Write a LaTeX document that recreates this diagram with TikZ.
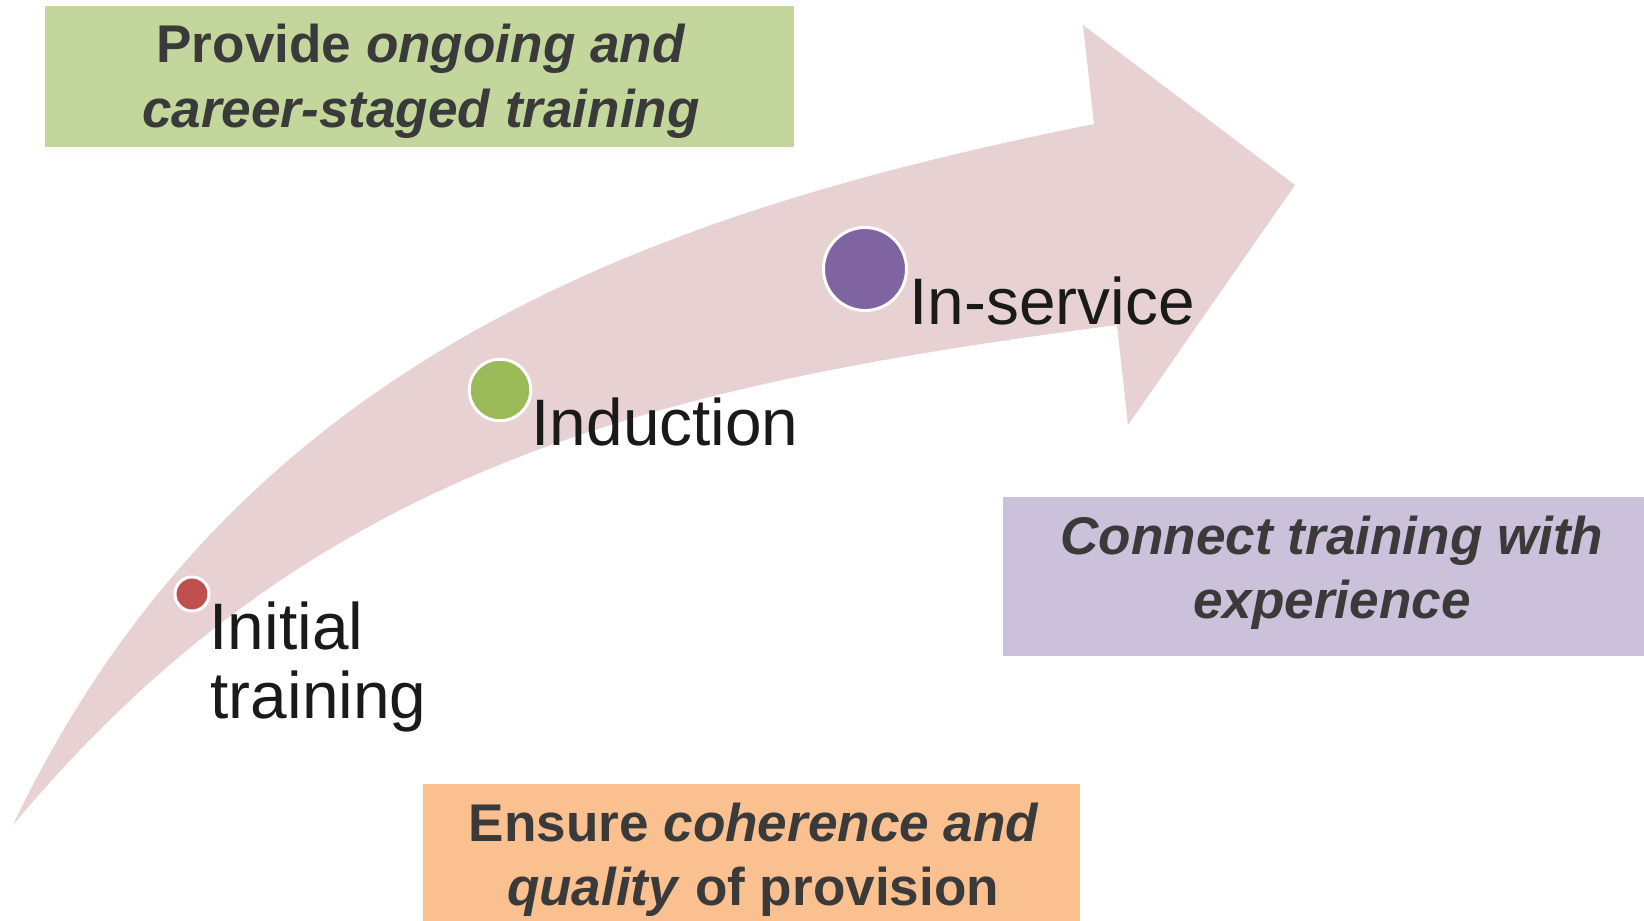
\documentclass[tikz,border=0pt]{standalone}
\usepackage{fontspec}
\setmainfont{Liberation Sans}
\definecolor{arrowpink}{HTML}{E8D1D2}
\definecolor{boxgreen}{HTML}{C3D69B}
\definecolor{boxpurple}{HTML}{CCC1DA}
\definecolor{boxorange}{HTML}{FAC090}
\definecolor{boxtextcol}{HTML}{3A3A3A}
\definecolor{labelcol}{HTML}{1A1A1A}
\definecolor{dotred}{HTML}{C0504D}
\definecolor{dotgreen}{HTML}{9BBB59}
\definecolor{dotpurple}{HTML}{8064A2}
\tikzset{
  boxtext/.style={inner sep=0pt, anchor=base, text=boxtextcol,
    font=\fontsize{15.1pt}{18.2pt}\selectfont\bfseries},
  stagelabel/.style={inner sep=0pt, anchor=base west, text=labelcol,
    font=\fontsize{18.7pt}{19.6pt}\selectfont},
  stagedot/.style={circle, draw=white, line width=0.85pt, inner sep=0pt}
}
\begin{document}
\begin{tikzpicture}[x=0.01cm, y=-0.01cm]
\useasboundingbox (0,0) rectangle (1644,921);
\fill[white] (0,0) rectangle (1644,921);
% curved arrow
\fill[arrowpink]
  (13,825) .. controls (233,363) and (644,214) .. (1094,124)
  -- (1083,25) -- (1295,185) -- (1128,425) -- (1117,325)
  .. controls (657,385) and (313,465) .. (13,825)
  -- cycle;
% boxes
\fill[boxgreen] (45,6) rectangle (794,147);
\fill[boxpurple] (1003,497) rectangle (1644,656);
\fill[boxorange] (423,784) rectangle (1080,921);
\node[boxtext] (g1) at (421,63) {Provide \textit{ongoing and}};
\node[boxtext] (g2) at (421,127) {\textit{career-staged training}};
\node[boxtext] (p1) at (1332,554) {\textit{Connect training with}};
\node[boxtext] (p2) at (1332,618) {\textit{experience}};
\node[boxtext] (o1) at (754,841) {Ensure \textit{coherence and}};
\node[boxtext] (o2) at (753,905) {\textit{quality} of provision};
% stage dots
\node[stagedot, fill=dotred, minimum size=0.34cm] (d1) at (192,594) {};
\node[stagedot, fill=dotgreen, minimum size=0.615cm] (d2) at (500,390) {};
\node[stagedot, fill=dotpurple, minimum size=0.83cm] (d3) at (865,269) {};
% stage labels
\node[stagelabel] (l1a) at (209,649) {Initial};
\node[stagelabel] (l1b) at (210,718) {training};
\node[stagelabel] (l2) at (531,445) {Induction};
\node[stagelabel] (l3) at (909,324) {In-service};
\end{tikzpicture}
\end{document}
